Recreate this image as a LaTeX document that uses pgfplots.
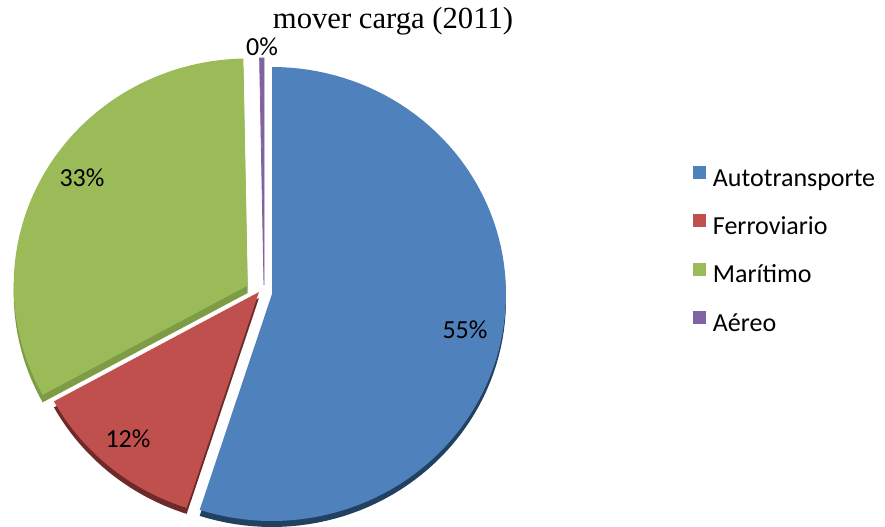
\documentclass[border=0pt]{standalone}
\usepackage{pgfplots}
\pgfplotsset{compat=1.18}
\usepackage{fontspec}
\setmainfont{Carlito}
\newfontfamily\titlefont{Liberation Serif}
\definecolor{cA}{HTML}{4F81BD}
\definecolor{cB}{HTML}{C0504D}
\definecolor{cC}{HTML}{9BBB59}
\definecolor{cD}{HTML}{8064A2}
\definecolor{dA}{HTML}{22405F}
\definecolor{dB}{HTML}{6E2A28}
\definecolor{dC}{HTML}{7E9B45}
\definecolor{dD}{HTML}{5C4678}
% shares (per cent)
\def\vA{55}
\def\vB{12}
\def\vC{32.7}
\def\vD{0.3}
\pgfmathsetmacro{\aA}{90}
\pgfmathsetmacro{\aB}{\aA-3.6*\vA}
\pgfmathsetmacro{\aC}{\aB-3.6*\vB}
\pgfmathsetmacro{\aD}{\aC-3.6*\vC}
\pgfmathsetmacro{\aE}{\aD-3.6*\vD}
\def\rx{234}
\def\ry{227}
% slice: style, from angle, to angle, cx, cy
\newcommand{\slice}[5]{%
  \addplot[#1, domain=#2:#3, samples=90, variable=\t]
    ({#4+\rx*cos(\t)}, {#5+\ry*sin(\t)}) -- (#4,#5) -- cycle;}
\begin{document}
\begin{tikzpicture}
\begin{axis}[
  width=663.75pt, height=395.25pt, scale only axis,
  xmin=0, xmax=885, ymin=0, ymax=527,
  hide axis, clip=false,
  legend style={at={(axis cs:689,364)}, anchor=north west, draw=none, fill=none,
    font=\fontsize{19.5}{22}\selectfont, row sep=17pt, column sep=5pt,
    nodes={inner sep=0pt, text height=13pt, text depth=4pt}},
  legend cell align=left,
  legend image code/.code={\fill[#1, draw=none] (0pt,1pt) rectangle (9.75pt,10.75pt);},
]
\path (axis cs:0,0) rectangle (axis cs:885,527);
% 3D rims (shifted copies)
\slice{fill=dA, draw=none, forget plot}{\aB}{\aA}{272}{227}
\slice{fill=dB, draw=none, forget plot}{\aC}{\aB}{259}{229}
\slice{fill=dC, draw=none, forget plot}{\aD}{\aC}{247.7}{234}
% slices
\slice{fill=cA, draw=none}{\aB}{\aA}{272}{233}
\addlegendentry{Autotransporte}
\slice{fill=cB, draw=none}{\aC}{\aB}{259}{235}
\addlegendentry{Ferroviario}
\slice{fill=cC, draw=none}{\aD}{\aC}{247.7}{241.5}
\addlegendentry{Marítimo}
\slice{fill=cD, draw=cD, line width=0.6pt}{\aE}{\aD}{264}{242}
\addlegendentry{Aéreo}
% data labels
\node[font=\fontsize{19.5}{22}\selectfont] at (axis cs:465,197) {55\%};
\node[font=\fontsize{19.5}{22}\selectfont] at (axis cs:128,88) {12\%};
\node[font=\fontsize{19.5}{22}\selectfont] at (axis cs:82,349) {33\%};
\node[font=\fontsize{19.5}{22}\selectfont] at (axis cs:262,480) {0\%};
% title
\node[font=\titlefont\fontsize{23}{26}\selectfont, anchor=base] at (axis cs:393,498) {mover carga (2011)};
\end{axis}
\end{tikzpicture}
\end{document}
